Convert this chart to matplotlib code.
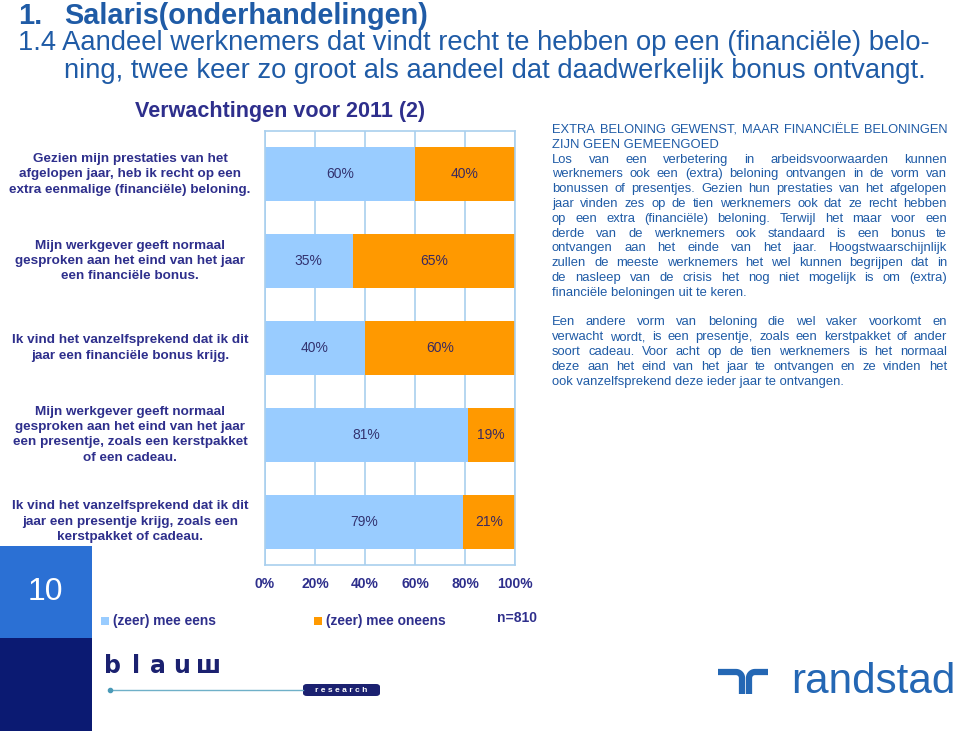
import matplotlib
matplotlib.use('Agg')
import matplotlib.pyplot as plt
from matplotlib import font_manager as fm
from matplotlib.patches import Rectangle, FancyBboxPatch
from matplotlib.lines import Line2D
import matplotlib.transforms as mtransforms
import numpy as np

W, H = 960, 731

# chart data
categories = [
    'Gezien mijn prestaties van het\nafgelopen jaar, heb ik recht op een\nextra eenmalige (financiële) beloning.',
    'Mijn werkgever geeft normaal\ngesproken aan het eind van het jaar\neen financiële bonus.',
    'Ik vind het vanzelfsprekend dat ik dit\njaar een financiële bonus krijg.',
    'Mijn werkgever geeft normaal\ngesproken aan het eind van het jaar\neen presentje, zoals een kerstpakket\nof een cadeau.',
    'Ik vind het vanzelfsprekend dat ik dit\njaar een presentje krijg, zoals een\nkerstpakket of cadeau.',
]
mee_eens = [60, 35, 40, 81, 79]
mee_oneens = [40, 65, 60, 19, 21]
series_names = ['(zeer) mee eens', '(zeer) mee oneens']
xticks = [0, 20, 40, 60, 80, 100]

title_1 = 'Salaris(onderhandelingen)'
title_2 = '1.4 Aandeel werknemers dat vindt recht te hebben op een (financiële) belo-'
title_3 = 'ning, twee keer zo groot als aandeel dat daadwerkelijk bonus ontvangt.'
chart_title = 'Verwachtingen voor 2011 (2)'

side_text = [
    ('EXTRA BELONING GEWENST, MAAR FINANCIËLE BELONINGEN', True),
    ('ZIJN GEEN GEMEENGOED', False),
    ('Los van een verbetering in arbeidsvoorwaarden kunnen', True),
    ('werknemers ook een (extra) beloning ontvangen in de vorm van', True),
    ('bonussen of presentjes. Gezien hun prestaties van het afgelopen', True),
    ('jaar vinden zes op de tien werknemers ook dat ze recht hebben', True),
    ('op een extra (financiële) beloning. Terwijl het maar voor een', True),
    ('derde van de werknemers ook standaard is een bonus te', True),
    ('ontvangen aan het einde van het jaar. Hoogstwaarschijnlijk', True),
    ('zullen de meeste werknemers het wel kunnen begrijpen dat in', True),
    ('de nasleep van de crisis het nog niet mogelijk is om (extra)', True),
    ('financiële beloningen uit te keren.', False),
    ('', False),
    ('Een andere vorm van beloning die wel vaker voorkomt en', True),
    ('verwacht wordt, is een presentje, zoals een kerstpakket of ander', True),
    ('soort cadeau. Voor acht op de tien werknemers is het normaal', True),
    ('deze aan het eind van het jaar te ontvangen en ze vinden het', True),
    ('ook vanzelfsprekend deze ieder jaar te ontvangen.', False),
]

NAVY = '#2e2f8c'
BLUE_TXT = '#1f5ba6'
LIGHT = '#99ccff'
ORANGE = '#ff9900'
GRID = '#a9cfee'


def pick(names):
    for n in names:
        try:
            fm.findfont(fm.FontProperties(family=n), fallback_to_default=False)
            return n
        except ValueError:
            pass
    return 'DejaVu Sans'


ARIAL = pick(['Liberation Sans', 'Arimo', 'DejaVu Sans'])


def P(x, y):
    return x / W, 1 - y / H


fig = plt.figure(figsize=(W / 100, H / 100), dpi=100)
fig.patch.set_facecolor('white')
renderer = fig.canvas.get_renderer()


def width_per_pt(s, **kw):
    t = fig.text(0, 0, s, fontsize=10, **kw)
    w = t.get_window_extent(renderer=renderer).width
    t.remove()
    return w / 10.0


# ---- slide title ----
fs2 = 917 / width_per_pt(title_2, family=ARIAL)
fs1 = 366 / width_per_pt(title_1, family=ARIAL, weight='bold')
fig.text(*P(18, 16), '1.', family=ARIAL, weight='bold', fontsize=fs1, color=BLUE_TXT, va='center')
fig.text(*P(64, 16), title_1, family=ARIAL, weight='bold', fontsize=fs1, color=BLUE_TXT, va='center')
fig.text(*P(18, 43), title_2, family=ARIAL, fontsize=fs2, color=BLUE_TXT, va='center')
fig.text(*P(64, 71), title_3, family=ARIAL, fontsize=fs2, color=BLUE_TXT, va='center')

# ---- chart ----
x0, x1, ytop, ybot = 265, 515, 131, 565
ax = fig.add_axes([x0 / W, 1 - ybot / H, (x1 - x0) / W, (ybot - ytop) / H])
ypos = np.arange(len(categories))
ax.barh(ypos, mee_eens, height=0.62, color=LIGHT, label=series_names[0], zorder=2)
ax.barh(ypos, mee_oneens, left=mee_eens, height=0.62, color=ORANGE, label=series_names[1], zorder=2)
ax.set_ylim(len(categories) - 0.5, -0.5)
ax.set_xlim(0, 100)
ax.set_xticks(xticks)
ax.set_xticklabels([f'{v}%' for v in xticks], fontsize=10, fontweight='bold', color=NAVY, family=ARIAL)
ax.tick_params(axis='x', length=0, pad=9)
ax.set_yticks([])
ax.grid(axis='x', color=GRID, linewidth=1.2, zorder=0)
ax.set_axisbelow(True)
for sp in ax.spines.values():
    sp.set_color(GRID)
    sp.set_linewidth(1.2)

for i in ypos:
    ax.text(mee_eens[i] / 2, i, f'{mee_eens[i]}%', ha='center', va='center',
            fontsize=10, color='#333370', family=ARIAL)
    ax.text(mee_eens[i] + mee_oneens[i] / 2, i, f'{mee_oneens[i]}%', ha='center', va='center',
            fontsize=10, color='#3a2a60', family=ARIAL)

# category labels, aligned with the bars
trans = mtransforms.blended_transform_factory(fig.transFigure, ax.transData)
for i, lab in enumerate(categories):
    ax.text(130 / W, i, lab, transform=trans, ha='center', va='center', multialignment='center',
            fontsize=9.7, fontweight='bold', color=NAVY, family=ARIAL, linespacing=1.36,
            clip_on=False)

fig.text(*P(280, 112), chart_title, ha='center', va='center', fontsize=15.5,
         fontweight='bold', color=NAVY, family=ARIAL)

# legend
for (lx, col, name) in [(101, LIGHT, series_names[0]), (314, ORANGE, series_names[1])]:
    fig.patches.append(Rectangle(P(lx, 625), 8 / W, 8 / H, transform=fig.transFigure,
                                 facecolor=col, edgecolor='none'))
    fig.text(*P(lx + 12, 621), name, va='center', fontsize=9.9, fontweight='bold',
             color=NAVY, family=ARIAL)
fig.text(*P(497, 618), 'n=810', va='center', fontsize=10, fontweight='bold', color=NAVY, family=ARIAL)

# ---- side text, justified ----
tx0, tx1 = 552, 947
fs_side = min(9.4, min(390 / width_per_pt(s, family=ARIAL) for s, j in side_text[2:] if j))
for k, (s, just) in enumerate(side_text):
    if not s:
        continue
    y = 130 + k * 14.8
    fs = fs_side
    if just:
        fs = min(fs_side, 390 / width_per_pt(s, family=ARIAL))
    if not just:
        fig.text(*P(tx0, y), s, fontsize=fs, family=ARIAL, color=BLUE_TXT, va='center')
        continue
    words = s.split(' ')
    objs = [fig.text(0, 0, wd, fontsize=fs, family=ARIAL, color=BLUE_TXT, va='center')
            for wd in words]
    ws = [o.get_window_extent(renderer=renderer).width for o in objs]
    gap = (tx1 - tx0 - sum(ws)) / (len(words) - 1)
    cx = tx0
    for o, w in zip(objs, ws):
        o.set_position(P(cx, y))
        cx += w + gap

# ---- page number block ----
fig.patches.append(Rectangle(P(0, 638), 92 / W, 92 / H, transform=fig.transFigure,
                             facecolor='#2b70d4', edgecolor='none'))
fig.patches.append(Rectangle(P(0, 731), 92 / W, 93 / H, transform=fig.transFigure,
                             facecolor='#0b1a72', edgecolor='none'))
fig.text(*P(45, 592), '10', ha='center', va='center', fontsize=23, color='white', family=ARIAL)

# ---- blauw research logo ----
for ch, lx in zip('blauw', [113, 136, 158, 182, 208]):
    fig.text(*P(lx, 666), ch if ch != 'w' else 'ш', ha='center', va='center', fontsize=17,
             fontweight='bold', color='#1b2170', family=['DejaVu Sans'])
fig.lines.append(Line2D([P(110, 0)[0], P(303, 0)[0]], [P(0, 690)[1]] * 2,
                        transform=fig.transFigure, color='#6fb0c8', linewidth=1))
fig.lines.append(Line2D([P(110, 0)[0]], [P(0, 690)[1]], transform=fig.transFigure,
                        marker='o', markersize=3, color='#4a9ab8'))
fig.patches.append(FancyBboxPatch(P(303, 696), 77 / W, 12 / H, boxstyle='round,pad=0,rounding_size=0.004',
                                  transform=fig.transFigure, facecolor='#1b2170', edgecolor='none'))
fig.text(*P(341.5, 690), 'r e s e a r c h', ha='center', va='center', fontsize=6,
         color='white', family=ARIAL, fontweight='bold')

# ---- randstad logo ----
RB = '#2467b4'
th = np.linspace(np.pi / 2, 0, 12)
lx = np.concatenate([[718, 736], 736 + 6 * np.cos(th), [742]])
ly = np.concatenate([[672, 672], 678 - 6 * np.sin(th), [694]])
rx = np.concatenate([[749], 755 - 6 * np.cos(th[::-1]), [768]])
ry = np.concatenate([[694], 678 - 6 * np.sin(th[::-1]), [672]])
for xs, ys in [(lx, ly), (rx, ry)]:
    fig.lines.append(Line2D(np.array(xs) / W, 1 - np.array(ys) / H, transform=fig.transFigure,
                            color=RB, linewidth=4.5, solid_capstyle='butt'))
fig.text(*P(791, 693), 'randstad', ha='left', va='baseline',
         fontsize=165 / width_per_pt('randstad', family=ARIAL), color=RB, family=ARIAL)

fig.savefig('out.png', dpi=100, facecolor='white')
